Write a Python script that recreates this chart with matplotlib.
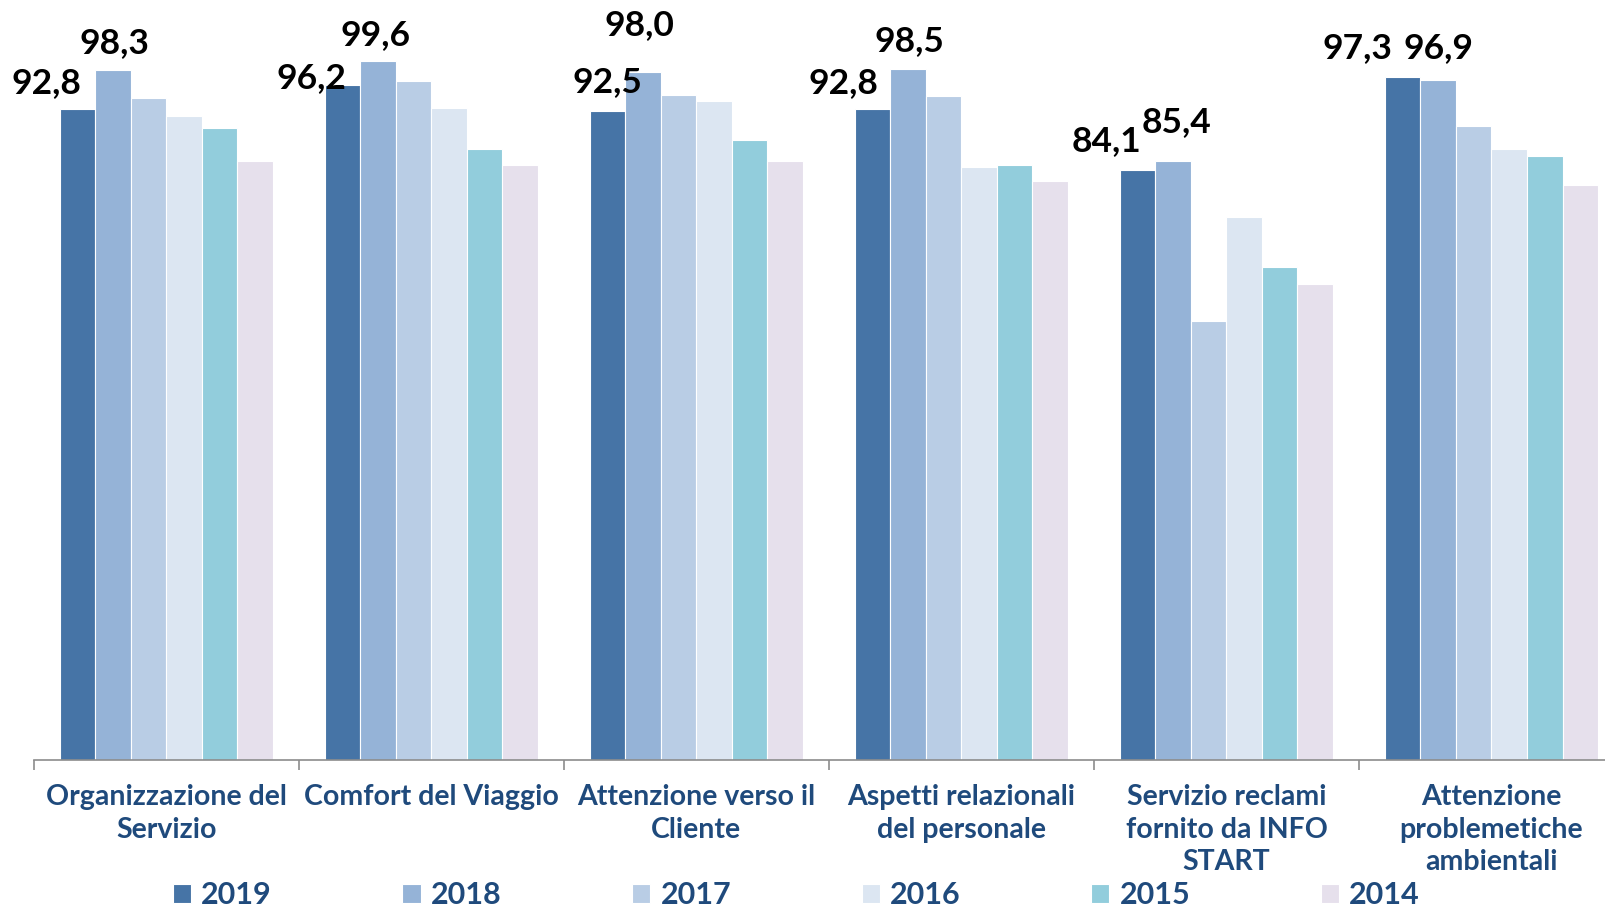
import numpy as np
import matplotlib.pyplot as plt

# ---- data ----
categories = ['Organizzazione del\nServizio', 'Comfort del Viaggio',
              'Attenzione verso il\nCliente', 'Aspetti relazionali\ndel personale',
              'Servizio reclami\nfornito da INFO\nSTART', 'Attenzione\nproblemetiche\nambientali']
years = ['2019', '2018', '2017', '2016', '2015', '2014']
v2019 = [92.8, 96.2, 92.5, 92.8, 84.1, 97.3]
v2018 = [98.3, 99.6, 98.0, 98.5, 85.4, 96.9]
v2017 = [94.3, 96.8, 94.8, 94.6, 62.5, 90.4]
v2016 = [91.7, 92.9, 93.9, 84.5, 77.3, 87.0]
v2015 = [90.1, 87.0, 88.3, 84.8, 70.3, 86.0]
v2014 = [85.3, 84.8, 85.4, 82.5, 67.8, 81.9]
series = [v2019, v2018, v2017, v2016, v2015, v2014]

# ---- style ----
colors = ['#4674A6', '#95B3D7', '#B9CDE5', '#DCE6F2', '#92CDDC', '#E6E0EC']
text_blue = '#1F4A7C'
# label offsets in pixels (labels were placed by hand in the original)
off_2019 = [(-31, 26), (-31, 7), (0, 29), (-29, 26), (-31, 29), (-45, 29)]
off_2018 = [(1, 27), (-3, 26), (-4, 47), (1, 28), (3, 39), (0, 32)]

plt.rcParams['font.family'] = ['Lato', 'DejaVu Sans']

fig = plt.figure(figsize=(16.05, 9.06), dpi=100)
ax = fig.add_axes([33.8 / 1605, 1 - 760 / 906, (1624 - 33.8) / 1605, 758 / 906])

x = np.arange(len(categories))
w = 0.134
bars = []
for i, (vals, yr) in enumerate(zip(series, years)):
    b = ax.bar(x + (i - 2.5) * w, vals, w, color=colors[i], edgecolor='white',
               linewidth=0.8, label=yr)
    bars.append(b)

# ---- value labels for 2019 and 2018 ----
for b, offs in ((bars[0], off_2019), (bars[1], off_2018)):
    for rect, (dx, dy) in zip(b, offs):
        h = rect.get_height()
        ax.annotate(f'{h:.1f}'.replace('.', ','),
                    (rect.get_x() + rect.get_width() / 2, h),
                    xytext=(dx, dy), textcoords='offset pixels',
                    ha='center', va='center', fontsize=25.5, fontweight='bold',
                    color='black')

ax.set_xlim(-0.5, len(categories) - 0.5)
ax.set_ylim(0, 108)
for s in ['top', 'right', 'left']:
    ax.spines[s].set_visible(False)
ax.spines['bottom'].set_color('#8C8C8C')
ax.spines['bottom'].set_linewidth(1.2)
ax.set_yticks([])

ax.set_xticks(np.arange(len(categories) + 1) - 0.5)
ax.set_xticklabels([])
ax.tick_params(axis='x', which='major', length=7, width=1.2, color='#8C8C8C')
ax.set_xticks(x, minor=True)
ax.set_xticklabels(categories, minor=True, fontsize=20.5, fontweight='bold',
                   color=text_blue, linespacing=1.33, va='top')
ax.tick_params(axis='x', which='minor', length=0, pad=17)

leg = fig.legend(loc='center left', bbox_to_anchor=(0.1, 0.012), ncol=6,
                 frameon=False, handlelength=0.6, handleheight=0.6,
                 handletextpad=0.33, columnspacing=4.27, borderaxespad=0,
                 prop={'size': 22, 'weight': 'bold'})
for t in leg.get_texts():
    t.set_color(text_blue)

fig.savefig('out.png', dpi=100)
